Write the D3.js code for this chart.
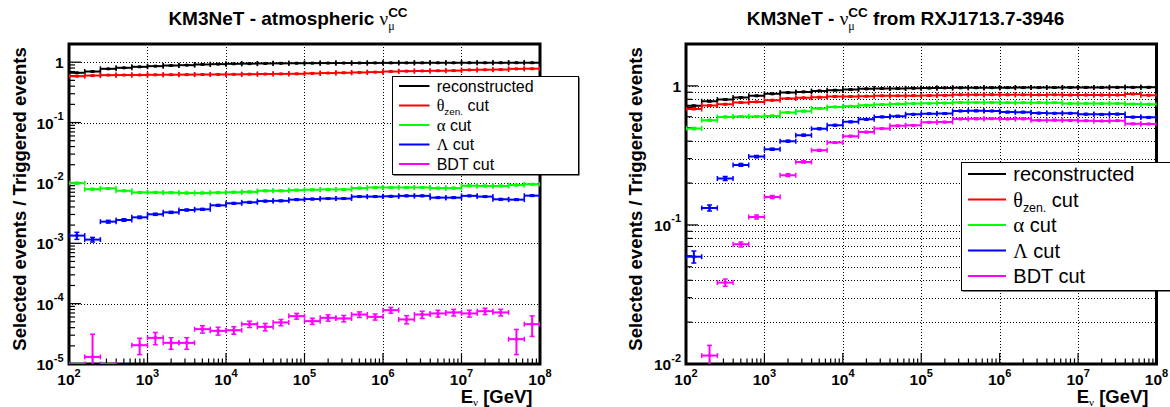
<!DOCTYPE html>
<html>
<head>
<meta charset="utf-8">
<script src="https://cdn.jsdelivr.net/npm/d3@7"></script>
<style>
  html, body { margin: 0; padding: 0; background: #fff; }
  svg { display: block; }
</style>
</head>
<body>
<script>
// ---------------- DATA ----------------
// bin edges (log10 of E in GeV), 30 bins of 0.2 decade
const binEdgeExp = [2.0,2.2,2.4,2.6,2.8,3.0,3.2,3.4,3.6,3.8,4.0,4.2,4.4,4.6,4.8,5.0,5.2,5.4,5.6,5.8,6.0,6.2,6.4,6.6,6.8,7.0,7.2,7.4,7.6,7.8,8.0];
const xTickExps = [2,3,4,5,6,7,8];
const atmYTickExps = [-5,-4,-3,-2,-1,0];
const rxYTickExps = [-2,-1,0];

const seriesNames = ["reconstructed", "θzen. cut", "α cut", "Λ cut", "BDT cut"];
const seriesColors = ["#000000", "#ff0000", "#00ff00", "#0000ff", "#ff00ff"];

// Left panel: atmospheric nu_mu CC
const atmReco   = [0.667,0.700,0.776,0.807,0.838,0.859,0.880,0.892,0.916,0.927,0.940,0.946,0.952,0.956,0.960,0.963,0.966,0.968,0.970,0.972,0.974,0.975,0.976,0.977,0.977,0.978,0.978,0.978,0.979,0.979];
const atmTheta  = [0.586,0.600,0.610,0.612,0.614,0.618,0.620,0.622,0.624,0.626,0.628,0.632,0.636,0.640,0.642,0.652,0.660,0.668,0.676,0.684,0.700,0.710,0.715,0.720,0.725,0.745,0.750,0.755,0.775,0.780];
const atmAlpha  = [0.0099,0.00787,0.0081,0.0074,0.00695,0.00695,0.0069,0.0068,0.0068,0.0069,0.0070,0.0071,0.0074,0.0074,0.0076,0.0077,0.0078,0.0078,0.0082,0.0084,0.0084,0.0084,0.0084,0.0082,0.0082,0.00896,0.0089,0.0089,0.0092,0.0095];
const atmLambda = [1.34e-3,1.15e-3,2.28e-3,2.43e-3,2.69e-3,3.02e-3,3.25e-3,3.56e-3,3.65e-3,4.25e-3,4.59e-3,4.77e-3,5.0e-3,5.05e-3,5.28e-3,5.4e-3,5.5e-3,5.5e-3,5.93e-3,5.93e-3,6.0e-3,6.1e-3,6.1e-3,5.7e-3,5.7e-3,6.1e-3,5.93e-3,5.35e-3,5.28e-3,6.15e-3];
const atmBDT    = [0,1.31e-5,0,null,2.05e-5,2.71e-5,2.24e-5,2.24e-5,3.78e-5,3.54e-5,3.63e-5,4.57e-5,4.12e-5,4.88e-5,6.21e-5,5.13e-5,5.82e-5,5.68e-5,6.6e-5,6.04e-5,7.8e-5,5.47e-5,6.6e-5,6.88e-5,7.15e-5,6.88e-5,7.5e-5,7.15e-5,2.58e-5,4.57e-5];

const atmRecoErr   = [0.004,0.004,0.003,0.003,0.003,0.003,0.003,0.003,0.003,0.003,0.003,0.003,0.003,0.003,0.003,0.003,0.003,0.003,0.003,0.003,0.003,0.003,0.003,0.003,0.003,0.003,0.003,0.003,0.003,0.003];
const atmThetaErr  = [0.005,0.005,0.004,0.004,0.004,0.004,0.004,0.004,0.004,0.004,0.004,0.004,0.004,0.004,0.004,0.004,0.004,0.004,0.004,0.004,0.004,0.004,0.004,0.004,0.004,0.004,0.004,0.004,0.004,0.004];
const atmAlphaErr  = [0.0003,0.0002,0.0002,0.0002,0.0002,0.0002,0.0002,0.0002,0.0002,0.0002,0.0002,0.0002,0.0002,0.0002,0.0002,0.0002,0.0002,0.0002,0.0002,0.0002,0.0002,0.0002,0.0002,0.0002,0.0002,0.0002,0.0002,0.0002,0.0002,0.0002];
const atmLambdaErr = [1.8e-4,1.0e-4,1.2e-4,1.2e-4,1.2e-4,1.2e-4,1.2e-4,1.2e-4,1.2e-4,1.3e-4,1.3e-4,1.3e-4,1.3e-4,1.3e-4,1.3e-4,1.3e-4,1.3e-4,1.3e-4,1.4e-4,1.4e-4,1.4e-4,1.4e-4,1.4e-4,1.4e-4,1.4e-4,1.4e-4,1.4e-4,1.4e-4,1.4e-4,1.5e-4];
const atmBDTErr    = [0,1.8e-5,0,0,6.2e-6,6.2e-6,4.9e-6,4.9e-6,5.3e-6,5.3e-6,5.2e-6,5.5e-6,5.8e-6,5.8e-6,6.8e-6,6.0e-6,7.0e-6,7.0e-6,7.0e-6,7.0e-6,8.5e-6,8.5e-6,9.0e-6,9.0e-6,9.0e-6,9.0e-6,9.0e-6,9.0e-6,1.15e-5,1.7e-5];

// Right panel: nu_mu CC from RXJ1713.7-3946
const rxReco   = [0.718,0.776,0.797,0.824,0.848,0.876,0.895,0.905,0.920,0.931,0.940,0.952,0.957,0.957,0.962,0.965,0.967,0.968,0.969,0.970,0.971,0.972,0.972,0.973,0.974,0.975,0.975,0.976,0.976,0.977];
const rxTheta  = [0.683,0.722,0.738,0.759,0.767,0.789,0.811,0.820,0.829,0.838,0.838,0.843,0.848,0.848,0.850,0.853,0.855,0.862,0.862,0.863,0.862,0.862,0.861,0.862,0.860,0.860,0.859,0.860,0.874,0.857];
const rxAlpha  = [0.493,0.566,0.598,0.601,0.601,0.608,0.643,0.658,0.687,0.706,0.714,0.726,0.734,0.740,0.746,0.750,0.752,0.758,0.758,0.758,0.757,0.757,0.756,0.756,0.748,0.748,0.747,0.747,0.740,0.738];
const rxLambda = [0.0591,0.1324,0.2157,0.270,0.310,0.350,0.400,0.442,0.491,0.521,0.551,0.575,0.598,0.605,0.625,0.630,0.632,0.660,0.661,0.660,0.648,0.647,0.637,0.636,0.636,0.626,0.624,0.627,0.596,0.594];
const rxBDT    = [null,0.0115,0.0385,0.0725,0.114,0.159,0.228,0.284,0.344,0.391,0.435,0.465,0.493,0.516,0.520,0.547,0.549,0.578,0.579,0.580,0.578,0.579,0.566,0.567,0.565,0.561,0.559,0.562,0.533,0.532];

const rxRecoErr   = [0.008,0.007,0.006,0.006,0.006,0.006,0.006,0.006,0.006,0.006,0.006,0.006,0.006,0.006,0.006,0.006,0.006,0.006,0.006,0.006,0.006,0.006,0.006,0.006,0.006,0.006,0.006,0.006,0.006,0.006];
const rxThetaErr  = [0.008,0.007,0.006,0.006,0.006,0.006,0.006,0.006,0.006,0.006,0.006,0.006,0.006,0.006,0.006,0.006,0.006,0.006,0.006,0.006,0.006,0.006,0.006,0.006,0.006,0.006,0.006,0.006,0.006,0.006];
const rxAlphaErr  = [0.008,0.007,0.006,0.006,0.006,0.006,0.006,0.006,0.006,0.006,0.006,0.006,0.006,0.006,0.006,0.006,0.006,0.006,0.006,0.006,0.006,0.006,0.006,0.006,0.006,0.006,0.006,0.006,0.006,0.006];
const rxLambdaErr = [0.0059,0.0066,0.007,0.006,0.006,0.006,0.006,0.006,0.006,0.006,0.006,0.006,0.006,0.006,0.006,0.006,0.006,0.006,0.006,0.006,0.006,0.006,0.006,0.006,0.006,0.006,0.006,0.006,0.006,0.006];
const rxBDTErr    = [0,0.0021,0.0023,0.003,0.0037,0.004,0.005,0.005,0.005,0.005,0.005,0.005,0.005,0.005,0.005,0.005,0.005,0.005,0.005,0.005,0.005,0.005,0.005,0.005,0.005,0.005,0.005,0.005,0.005,0.005];

// ---------------- DRAWING ----------------
const W = 1170, H = 407;
const SANS = "'Liberation Sans', Arial, Helvetica, sans-serif";
const SERIF = "'Liberation Serif', 'DejaVu Serif', 'Times New Roman', serif";

const svg = d3.select("body").append("svg").attr("width", W).attr("height", H);
svg.append("rect").attr("width", W).attr("height", H).attr("fill", "#fff");

// rich text: parts laid out left to right; p.dy is baseline offset; p.sameX puts part at the previous part's x
function rich(g, x, y, parts, anchor) {
  const grp = g.append("g");
  let cx = 0, prevStart = 0;
  parts.forEach(p => {
    const startX = p.sameX ? prevStart : cx;
    const el = grp.append("text")
      .attr("x", startX).attr("y", p.dy || 0)
      .attr("font-family", p.family || SANS)
      .attr("font-size", p.size)
      .attr("font-weight", p.weight || "normal")
      .attr("fill", "#000")
      .style("white-space", "pre")
      .text(p.t);
    const w = el.node().getComputedTextLength();
    prevStart = startX;
    cx = Math.max(cx, startX + w);
  });
  let shift = x;
  if (anchor === "middle") shift = x - cx / 2;
  else if (anchor === "end") shift = x - cx;
  grp.attr("transform", `translate(${shift},${y})`);
  return grp;
}

function powLabel(g, x, y, e, anchor) {
  const t = g.append("text").attr("x", x).attr("y", y)
    .attr("text-anchor", anchor)
    .attr("font-family", SANS).attr("font-weight", "bold").attr("fill", "#000");
  if (e === 0) {
    t.append("tspan").attr("font-size", 15.5).text("1");
  } else {
    t.append("tspan").attr("font-size", 15.5).text("10");
    t.append("tspan").attr("font-size", 11).attr("dy", -8.5).text(String(e));
  }
}

function drawPanel(cfg, idx) {
  const g = svg.append("g");
  const xs = d3.scaleLog().domain([10 ** xTickExps[0], 10 ** xTickExps[xTickExps.length - 1]]).range([cfg.x0, cfg.x1]);
  const ys = d3.scaleLog().domain(cfg.yDomain).range([cfg.y1, cfg.y0]);
  const [ymin, ymax] = cfg.yDomain;

  // ticks
  const xMajor = xTickExps.map(e => 10 ** e);
  const xMinor = [];
  xTickExps.slice(0, -1).forEach(e => { for (let k = 2; k <= 9; k++) xMinor.push(k * 10 ** e); });
  const yMajor = cfg.yTickExps.map(e => 10 ** e);
  const yMinor = [];
  for (let e = cfg.yTickExps[0]; e <= cfg.yTickExps[cfg.yTickExps.length - 1]; e++) {
    for (let k = 2; k <= 9; k++) { const v = k * 10 ** e; if (v <= ymax * 1.0001) yMinor.push(v); }
  }

  // grid
  const grid = g.append("g").attr("stroke", "#000").attr("stroke-width", 1)
    .attr("stroke-dasharray", "1,2").attr("shape-rendering", "crispEdges");
  xMajor.forEach(v => {
    const x = Math.round(xs(v)) + 0.5;
    grid.append("line").attr("x1", x).attr("x2", x).attr("y1", cfg.y0).attr("y2", cfg.y1);
  });
  const yGridVals = cfg.minorGrid ? yMajor.concat(yMinor) : yMajor;
  yGridVals.forEach(v => {
    const y = Math.round(ys(v)) + 0.5;
    grid.append("line").attr("x1", cfg.x0).attr("x2", cfg.x1).attr("y1", y).attr("y2", y);
  });

  // axis ticks (inside)
  const tk = g.append("g").attr("stroke", "#000").attr("stroke-width", 1.2);
  xMajor.forEach(v => tk.append("line").attr("x1", xs(v)).attr("x2", xs(v)).attr("y1", cfg.y1).attr("y2", cfg.y1 - 11));
  xMinor.forEach(v => tk.append("line").attr("x1", xs(v)).attr("x2", xs(v)).attr("y1", cfg.y1).attr("y2", cfg.y1 - 5.5));
  yMajor.forEach(v => tk.append("line").attr("x1", cfg.x0).attr("x2", cfg.x0 + 12).attr("y1", ys(v)).attr("y2", ys(v)));
  yMinor.forEach(v => tk.append("line").attr("x1", cfg.x0).attr("x2", cfg.x0 + 6).attr("y1", ys(v)).attr("y2", ys(v)));

  // frame
  g.append("rect").attr("x", cfg.x0).attr("y", cfg.y0)
    .attr("width", cfg.x1 - cfg.x0).attr("height", cfg.y1 - cfg.y0)
    .attr("fill", "none").attr("stroke", "#000").attr("stroke-width", 3);

  // data (drawn over the frame, clipped to the plot area)
  const clipId = "clip" + idx;
  g.append("clipPath").attr("id", clipId).append("rect")
    .attr("x", cfg.x0).attr("y", cfg.y0 - 1).attr("width", cfg.x1 - cfg.x0).attr("height", cfg.y1 - cfg.y0 + 1);
  const dg = g.append("g").attr("clip-path", `url(#${clipId})`);
  const cap = 2.5;
  cfg.series.forEach((s, si) => {
    const sg = dg.append("g").attr("stroke", seriesColors[si]).attr("stroke-width", 2).attr("fill", seriesColors[si]);
    s.vals.forEach((v, i) => {
      if (v === null) return;
      const lo = 10 ** binEdgeExp[i], hi = 10 ** binEdgeExp[i + 1];
      const xl = xs(lo), xh = xs(hi), xc = xs(Math.sqrt(lo * hi));
      const y = ys(Math.max(v, ymin));
      sg.append("line").attr("x1", xl).attr("x2", xh).attr("y1", y).attr("y2", y);
      sg.append("line").attr("x1", xl).attr("x2", xl).attr("y1", y - cap).attr("y2", y + cap).attr("stroke-width", 1.5);
      sg.append("line").attr("x1", xh).attr("x2", xh).attr("y1", y - cap).attr("y2", y + cap).attr("stroke-width", 1.5);
      if (v > 0) {
        const e = s.errs[i];
        const top = Math.min(v + e, ymax);
        const bot = (v - e) > ymin ? v - e : ymin;
        const yt = ys(top), yb = ys(bot);
        sg.append("line").attr("x1", xc).attr("x2", xc).attr("y1", yt).attr("y2", yb);
        if (v + e < ymax) sg.append("line").attr("x1", xc - cap).attr("x2", xc + cap).attr("y1", yt).attr("y2", yt).attr("stroke-width", 1.5);
        if (v - e > ymin) sg.append("line").attr("x1", xc - cap).attr("x2", xc + cap).attr("y1", yb).attr("y2", yb).attr("stroke-width", 1.5);
        sg.append("rect").attr("x", xc - 1.5).attr("y", y - 1.5).attr("width", 3).attr("height", 3).attr("stroke", "none");
      }
    });
  });

  // tick labels
  xTickExps.forEach(e => powLabel(g, xs(10 ** e), 385, e, "middle"));
  cfg.yTickExps.forEach(e => powLabel(g, cfg.yLabelRight, ys(10 ** e) + 6, e, "end"));

  // title
  rich(g, cfg.titleCenter, 25, cfg.titleParts, "middle");

  // y axis title
  g.append("text")
    .attr("transform", `translate(${cfg.yTitleX},199) rotate(-90)`)
    .attr("text-anchor", "middle")
    .attr("font-family", SANS).attr("font-weight", "bold").attr("font-size", 18.5)
    .attr("fill", "#000")
    .text("Selected events / Triggered events");

  // x axis title
  rich(g, cfg.xTitleEnd, 403, [
    { t: "E", size: 18.5, weight: "bold" },
    { t: "ν", size: 11, family: SERIF, dy: 3 },
    { t: " [GeV]", size: 18.5, weight: "bold" }
  ], "end");

  // legend
  const L = cfg.legend;
  const lg = g.append("g");
  lg.append("rect").attr("x", L.x + 1.5).attr("y", L.y + 1.5).attr("width", L.w).attr("height", L.h).attr("fill", "#000");
  lg.append("rect").attr("x", L.x + 0.5).attr("y", L.y + 0.5).attr("width", L.w).attr("height", L.h)
    .attr("fill", "#fff").attr("stroke", "#000").attr("stroke-width", 1);
  const fs = L.fs;
  const entryParts = [
    [{ t: "reconstructed", size: fs }],
    [{ t: "θ", size: fs, family: SERIF }, { t: "zen.", size: fs * 0.62, dy: fs * 0.25 }, { t: " cut", size: fs }],
    [{ t: "α", size: fs * 1.05, family: SERIF }, { t: " cut", size: fs }],
    [{ t: "Λ", size: fs, family: SERIF }, { t: " cut", size: fs }],
    [{ t: "BDT cut", size: fs }]
  ];
  seriesNames.forEach((n, i) => {
    const cy = L.rowY[i];
    lg.append("line").attr("x1", L.lineX0).attr("x2", L.lineX1).attr("y1", cy).attr("y2", cy)
      .attr("stroke", seriesColors[i]).attr("stroke-width", 2);
    rich(lg, L.textX, cy + fs * 0.36, entryParts[i], "start");
  });
}

const panels = [
  {
    x0: 69, x1: 540, y0: 44, y1: 364,
    yDomain: [1e-5, 2], yTickExps: atmYTickExps, minorGrid: false,
    yLabelRight: 63.5, yTitleX: 25.5, xTitleEnd: 532.5, titleCenter: 288,
    titleParts: [
      { t: "KM3NeT - atmospheric ", size: 19, weight: "bold" },
      { t: "ν", size: 19, family: SERIF },
      { t: "μ", size: 12, family: SERIF, dy: 5 },
      { t: "CC", size: 13.5, weight: "bold", dy: -8, sameX: true }
    ],
    series: [
      { vals: atmReco, errs: atmRecoErr },
      { vals: atmTheta, errs: atmThetaErr },
      { vals: atmAlpha, errs: atmAlphaErr },
      { vals: atmLambda, errs: atmLambdaErr },
      { vals: atmBDT, errs: atmBDTErr }
    ],
    legend: { x: 392, y: 76, w: 186, h: 98, fs: 16, lineX0: 399, lineX1: 429.5, textX: 436.7,
              rowY: [86, 105.5, 125, 144.5, 164] }
  },
  {
    x0: 686, x1: 1156.5, y0: 44, y1: 364,
    yDomain: [1e-2, 2], yTickExps: rxYTickExps, minorGrid: true,
    yLabelRight: 681, yTitleX: 641.7, xTitleEnd: 1148.5, titleCenter: 905.5,
    titleParts: [
      { t: "KM3NeT - ", size: 19, weight: "bold" },
      { t: "ν", size: 19, family: SERIF },
      { t: "μ", size: 12, family: SERIF, dy: 5 },
      { t: "CC", size: 13.5, weight: "bold", dy: -8, sameX: true },
      { t: " from RXJ1713.7-3946", size: 19, weight: "bold" }
    ],
    series: [
      { vals: rxReco, errs: rxRecoErr },
      { vals: rxTheta, errs: rxThetaErr },
      { vals: rxAlpha, errs: rxAlphaErr },
      { vals: rxLambda, errs: rxLambdaErr },
      { vals: rxBDT, errs: rxBDTErr }
    ],
    legend: { x: 961, y: 162, w: 230, h: 128, fs: 20, lineX0: 968, lineX1: 1006, textX: 1013.3,
              rowY: [174, 199.5, 225, 250.5, 276] }
  }
];

panels.forEach((p, i) => drawPanel(p, i));
</script>
</body>
</html>
